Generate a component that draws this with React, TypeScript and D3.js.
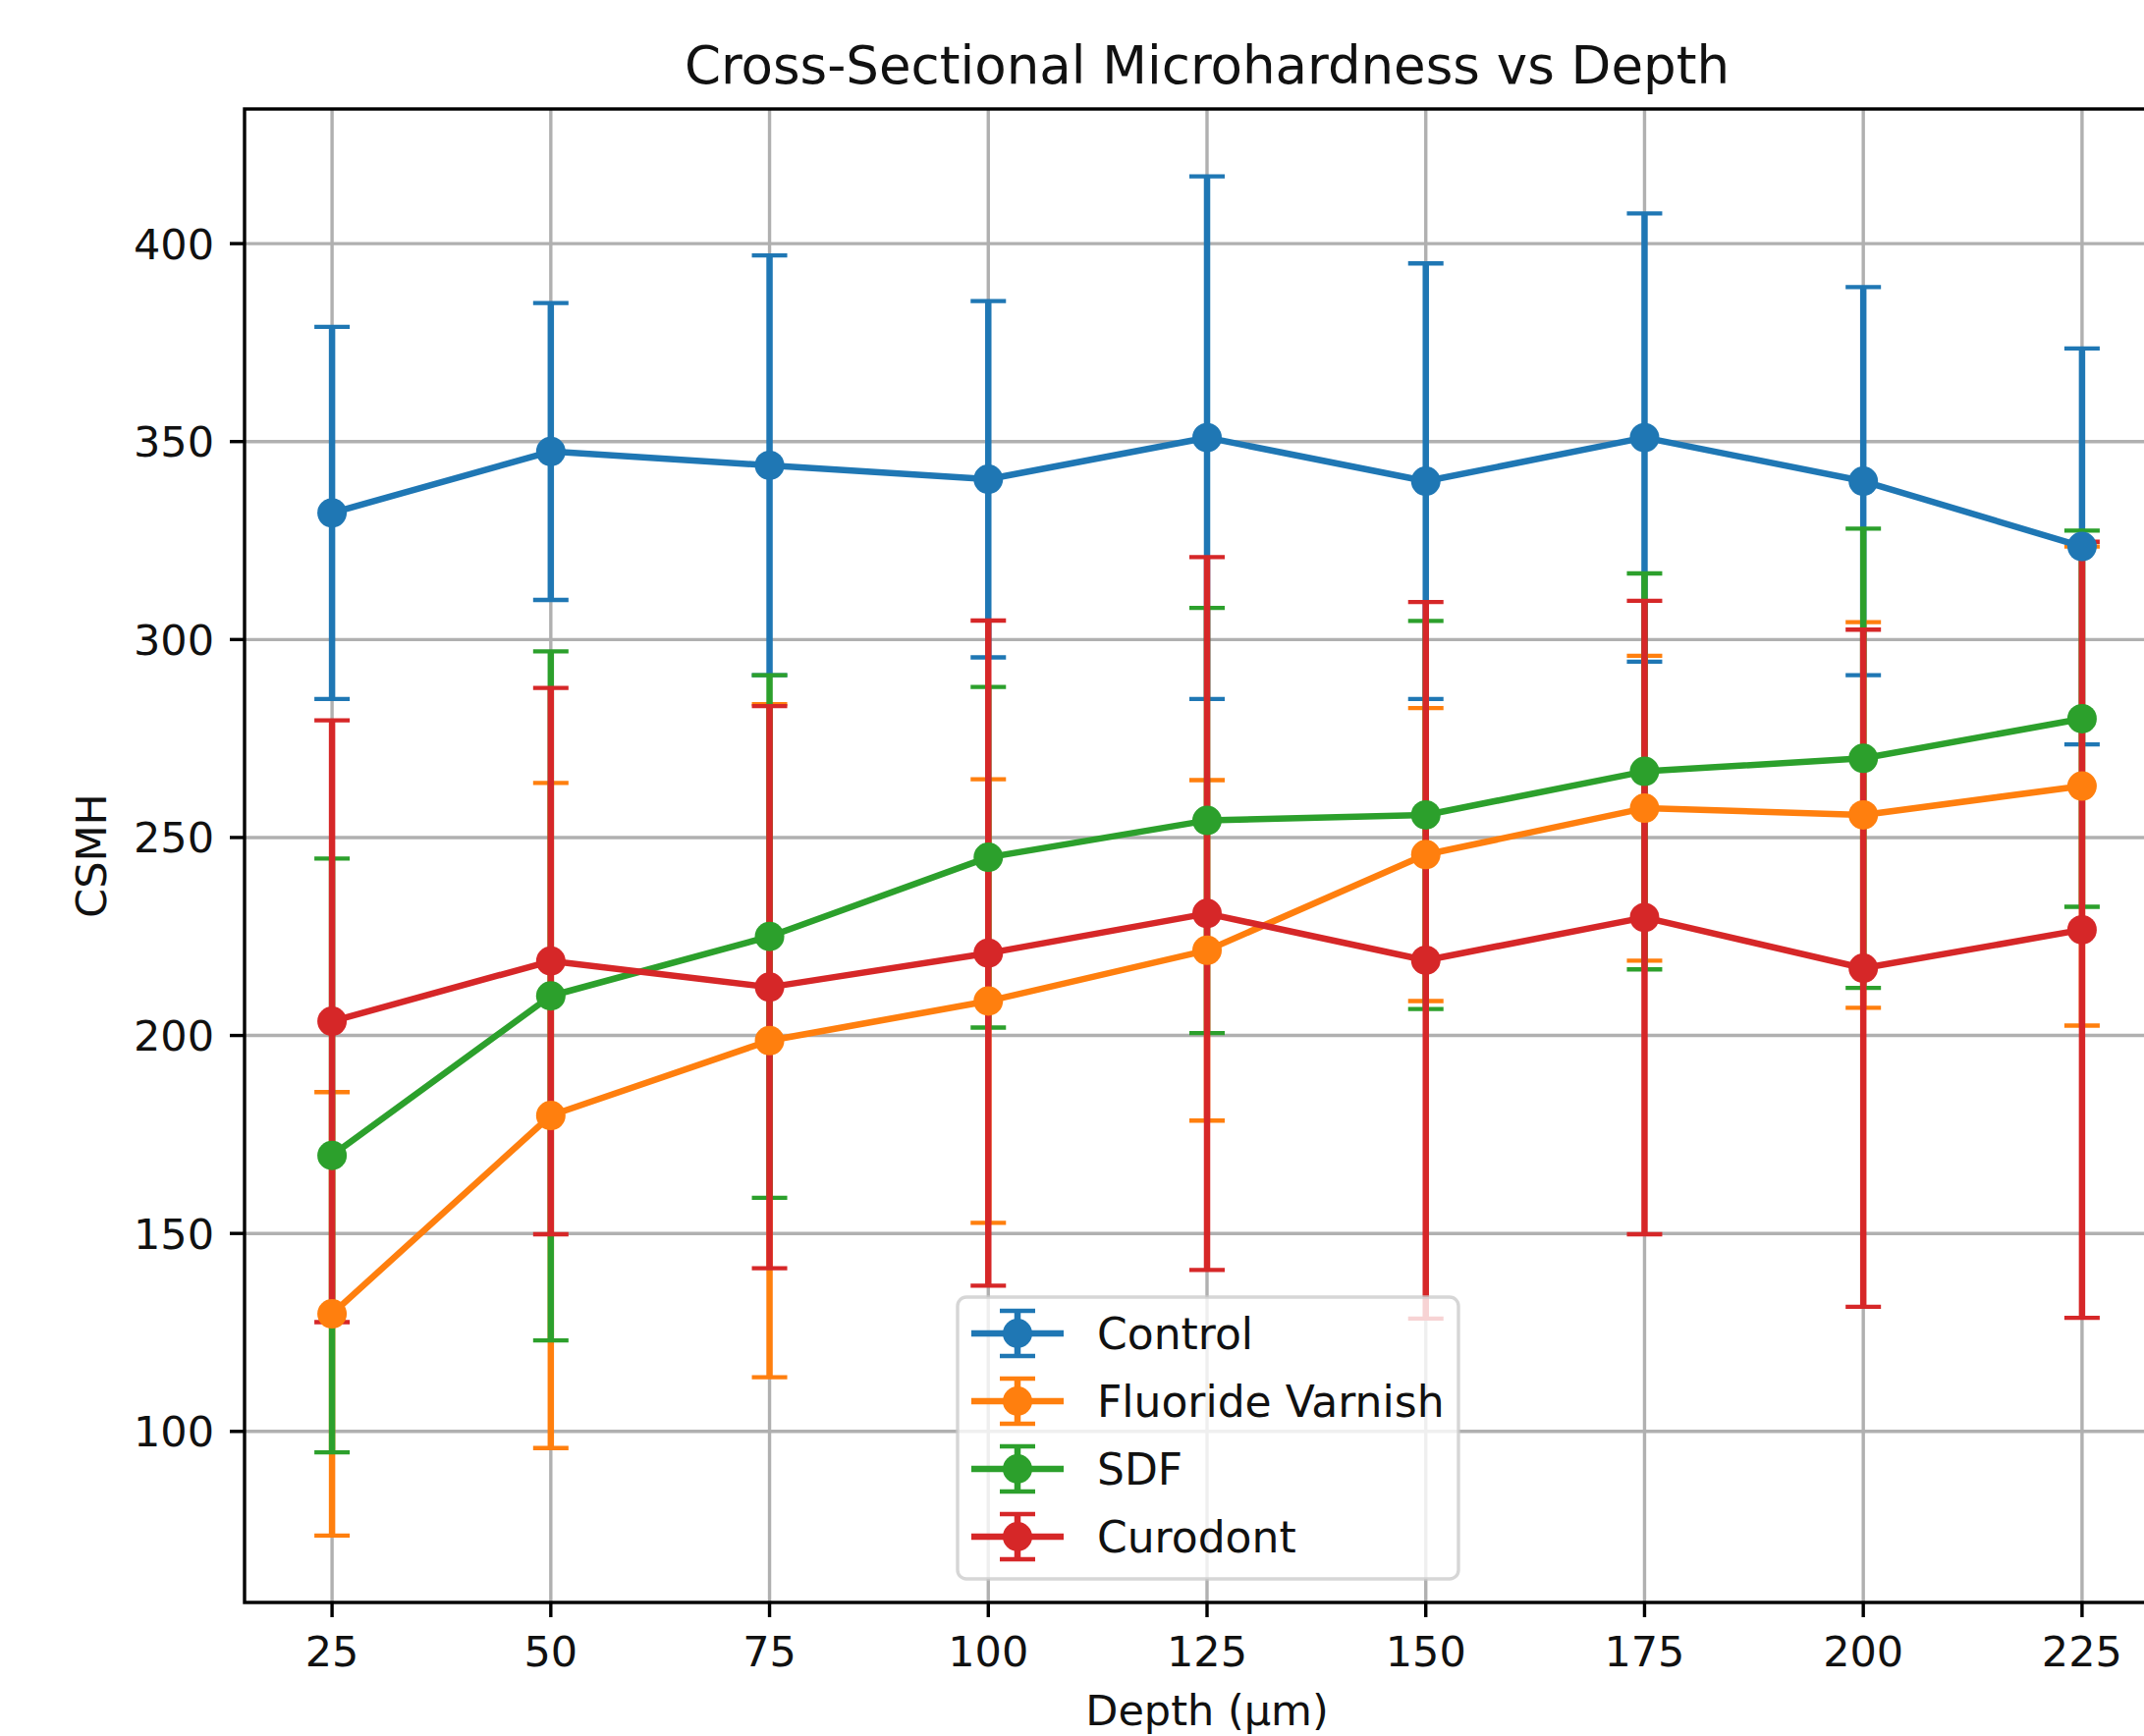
import * as d3 from 'd3';
import React, { useEffect, useRef } from 'react';

// depth positions (µm)
const depths = [25, 50, 75, 100, 125, 150, 175, 200, 225];
const xTicks = [25, 50, 75, 100, 125, 150, 175, 200, 225];
const yTicks = [100, 150, 200, 250, 300, 350, 400];

const seriesNames = ['Control', 'Fluoride Varnish', 'SDF', 'Curodont'];
const seriesColors = ['#1f77b4', '#ff7f0e', '#2ca02c', '#d62728'];

// means
const controlMean = [332, 347.5, 344, 340.5, 351, 340, 351, 340, 323.5];
const fluorideMean = [129.7, 179.8, 198.7, 208.7, 221.5, 245.7, 257.4, 255.7, 263];
const sdfMean = [169.7, 210, 225, 245, 254.3, 255.7, 266.7, 270, 280];
const curodontMean = [203.6, 218.8, 212.2, 220.8, 230.8, 219, 229.8, 217, 226.7];

// symmetric error (sd)
const controlErr = [47, 37.5, 53, 45, 66, 55, 56.6, 49, 50];
const fluorideErr = [56, 84, 85, 56, 43, 37, 38.5, 48.7, 60.5];
const sdfErr = [75, 87, 66, 43, 53.7, 49, 50, 58, 47.5];
const curodontErr = [76, 69, 71, 84, 90, 90.5, 80, 85.5, 98];

const FONT = '"DejaVu Sans", Verdana, sans-serif';

const App = () => {
  const svgRef = useRef(null);

  useEffect(() => {
    const width = 2183;
    const height = 1768;
    const plot = { left: 249, right: 2209, top: 111, bottom: 1632 };

    const means = [controlMean, fluorideMean, sdfMean, curodontMean];
    const errs = [controlErr, fluorideErr, sdfErr, curodontErr];
    const series = seriesNames.map((name, i) => ({
      name,
      color: seriesColors[i],
      points: depths.map((d, j) => ({ depth: d, mean: means[i][j], err: errs[i][j] })),
    }));

    const xScale = d3.scaleLinear().domain([15, 235]).range([plot.left, plot.right]);
    const yScale = d3.scaleLinear().domain([56.8, 434]).range([plot.bottom, plot.top]);

    const svg = d3.select(svgRef.current);
    svg.selectAll('*').remove();
    svg.attr('width', width).attr('height', height);

    svg.append('rect').attr('width', width).attr('height', height).attr('fill', 'white');

    // grid
    const grid = svg.append('g');
    grid.selectAll('.vg').data(xTicks).enter().append('line')
      .attr('x1', d => xScale(d)).attr('x2', d => xScale(d))
      .attr('y1', plot.top).attr('y2', plot.bottom)
      .attr('stroke', '#b0b0b0').attr('stroke-width', 3.4);
    grid.selectAll('.hg').data(yTicks).enter().append('line')
      .attr('x1', plot.left).attr('x2', plot.right)
      .attr('y1', d => yScale(d)).attr('y2', d => yScale(d))
      .attr('stroke', '#b0b0b0').attr('stroke-width', 3.4);

    // error bars first (they sit under every data line)
    const capHalf = 18;
    series.forEach(s => {
      const g = svg.append('g').attr('stroke', s.color);
      g.selectAll('.bar').data(s.points).enter().append('line')
        .attr('x1', d => xScale(d.depth)).attr('x2', d => xScale(d.depth))
        .attr('y1', d => yScale(d.mean - d.err)).attr('y2', d => yScale(d.mean + d.err))
        .attr('stroke-width', 6.5);
      ['lo', 'hi'].forEach(side => {
        g.selectAll('.cap' + side).data(s.points).enter().append('line')
          .attr('x1', d => xScale(d.depth) - capHalf).attr('x2', d => xScale(d.depth) + capHalf)
          .attr('y1', d => yScale(side === 'lo' ? d.mean - d.err : d.mean + d.err))
          .attr('y2', d => yScale(side === 'lo' ? d.mean - d.err : d.mean + d.err))
          .attr('stroke-width', 4.3);
      });
    });

    // lines + markers
    const line = d3.line().x(d => xScale(d.depth)).y(d => yScale(d.mean));
    series.forEach(s => {
      svg.append('path')
        .datum(s.points)
        .attr('fill', 'none')
        .attr('stroke', s.color)
        .attr('stroke-width', 6.5)
        .attr('stroke-linejoin', 'round')
        .attr('d', line);
      svg.append('g').selectAll('circle').data(s.points).enter().append('circle')
        .attr('cx', d => xScale(d.depth))
        .attr('cy', d => yScale(d.mean))
        .attr('r', 15)
        .attr('fill', s.color);
    });

    // spines
    svg.append('rect')
      .attr('x', plot.left).attr('y', plot.top)
      .attr('width', plot.right - plot.left).attr('height', plot.bottom - plot.top)
      .attr('fill', 'none').attr('stroke', 'black').attr('stroke-width', 3.4);

    // ticks
    const axes = svg.append('g').attr('font-family', FONT).attr('font-size', 43).attr('fill', '#111');
    xTicks.forEach(t => {
      axes.append('line')
        .attr('x1', xScale(t)).attr('x2', xScale(t))
        .attr('y1', plot.bottom).attr('y2', plot.bottom + 15)
        .attr('stroke', 'black').attr('stroke-width', 3.4);
      axes.append('text')
        .attr('x', xScale(t)).attr('y', 1697)
        .attr('text-anchor', 'middle').text(t);
    });
    yTicks.forEach(t => {
      axes.append('line')
        .attr('x1', plot.left - 15).attr('x2', plot.left)
        .attr('y1', yScale(t)).attr('y2', yScale(t))
        .attr('stroke', 'black').attr('stroke-width', 3.4);
      axes.append('text')
        .attr('x', plot.left - 31).attr('y', yScale(t))
        .attr('dy', '0.36em')
        .attr('text-anchor', 'end').text(t);
    });

    // labels
    const midX = (plot.left + plot.right) / 2;
    svg.append('text')
      .attr('x', midX).attr('y', 85)
      .attr('text-anchor', 'middle')
      .attr('font-family', FONT).attr('font-size', 53).attr('fill', '#111')
      .text('Cross-Sectional Microhardness vs Depth');
    svg.append('text')
      .attr('x', midX).attr('y', 1757)
      .attr('text-anchor', 'middle')
      .attr('font-family', FONT).attr('font-size', 43).attr('fill', '#111')
      .text('Depth (µm)');
    svg.append('text')
      .attr('transform', `translate(108,${(plot.top + plot.bottom) / 2}) rotate(-90)`)
      .attr('text-anchor', 'middle')
      .attr('font-family', FONT).attr('font-size', 43).attr('fill', '#111')
      .text('CSMH');

    // legend
    const legend = svg.append('g');
    legend.append('rect')
      .attr('x', 975).attr('y', 1321).attr('width', 510).attr('height', 287)
      .attr('rx', 9)
      .attr('fill', 'white').attr('fill-opacity', 0.8)
      .attr('stroke', '#cccccc').attr('stroke-opacity', 0.8).attr('stroke-width', 3.4);
    series.forEach((s, i) => {
      const cy = 1358 + i * 69;
      const row = legend.append('g');
      row.append('line').attr('x1', 989).attr('x2', 1083).attr('y1', cy).attr('y2', cy)
        .attr('stroke', s.color).attr('stroke-width', 6.5);
      row.append('line').attr('x1', 1036).attr('x2', 1036).attr('y1', cy - 23).attr('y2', cy + 23)
        .attr('stroke', s.color).attr('stroke-width', 6.5);
      [-23, 23].forEach(o => {
        row.append('line').attr('x1', 1036 - capHalf).attr('x2', 1036 + capHalf)
          .attr('y1', cy + o).attr('y2', cy + o)
          .attr('stroke', s.color).attr('stroke-width', 4.3);
      });
      row.append('circle').attr('cx', 1036).attr('cy', cy).attr('r', 15).attr('fill', s.color);
      row.append('text')
        .attr('x', 1117).attr('y', cy).attr('dy', '0.36em')
        .attr('font-family', FONT).attr('font-size', 44).attr('fill', '#111')
        .text(s.name);
    });
  }, []);

  return (
    <svg ref={svgRef} style={{ position: 'absolute', left: 0, top: 0, display: 'block' }}></svg>
  );
};

export default App;
